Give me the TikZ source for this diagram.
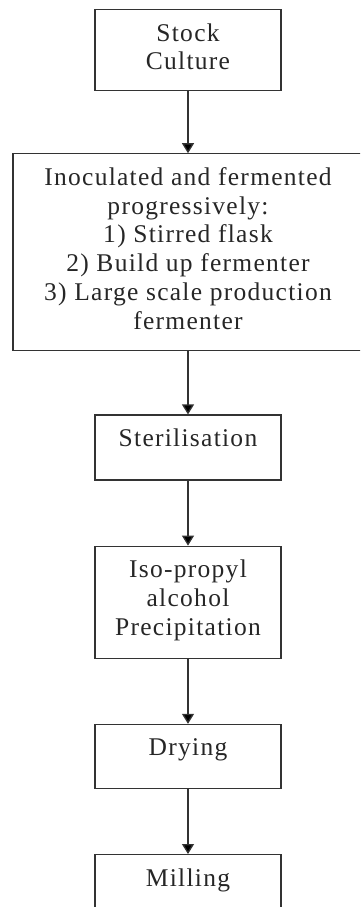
\documentclass[tikz,border=0pt]{standalone}
\usepackage{fontspec}
\setmainfont{Liberation Serif}[LetterSpace=5]
\usetikzlibrary{positioning,arrows.meta}

% box of fixed size, text at the top
\newcommand{\stagetext}[3]{\parbox[c][#1][t]{#2}{\centering\vspace*{13.8pt}#3}}

\tikzset{
  stage/.style={draw=black!80, line width=1.2pt, inner sep=0pt, text=black!85,
    font=\fontsize{25.5}{28.7}\selectfont},
  flow/.style={draw=black!80, line width=1.3pt, -{Triangle[width=12pt,length=10pt]}}
}

\begin{document}
\begin{tikzpicture}[x=1pt,y=1pt]
\path[use as bounding box, clip] (0,0) rectangle (360,-907);
\node[stage, anchor=north] (stock) at (188,-9) {\stagetext{81pt}{186pt}{Stock\\Culture}};
\node[stage, below=62pt of stock] (ferm) {\stagetext{197pt}{350pt}{Inoculated and fermented\\progressively:\\1) Stirred flask\\2) Build up fermenter\\3) Large scale production\\fermenter}};
\node[stage, below=63pt of ferm] (steril) {\stagetext{65pt}{186pt}{Sterilisation}};
\node[stage, below=65pt of steril] (ipa) {\stagetext{112pt}{186pt}{Iso-propyl\\alcohol\\Precipitation}};
\node[stage, below=65pt of ipa] (drying) {\stagetext{64pt}{186pt}{Drying}};
\node[stage, below=65pt of drying] (milling) {\stagetext{80pt}{186pt}{Milling}};
\path[flow]
(stock) edge (ferm)
(ferm) edge (steril)
(steril) edge (ipa)
(ipa) edge (drying)
(drying) edge (milling);
\end{tikzpicture}
\end{document}
